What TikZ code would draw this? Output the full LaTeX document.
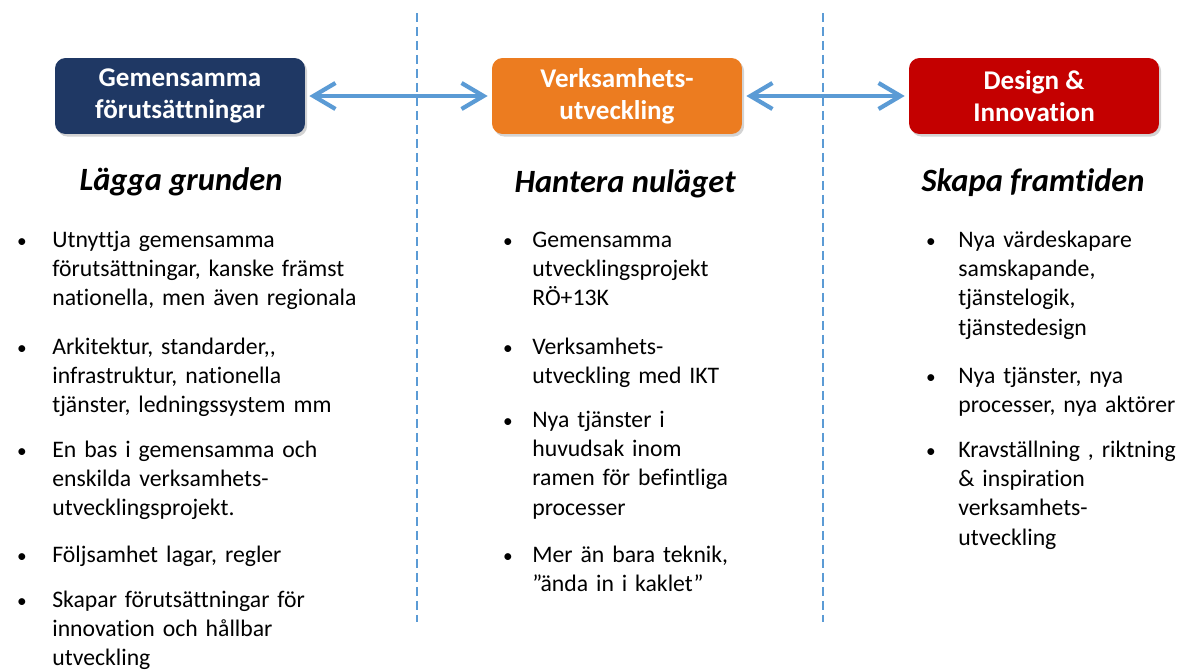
\documentclass[tikz,border=0pt]{standalone}
\usepackage{fontspec}
\setmainfont{Carlito}[Ligatures={NoCommon}]
\usepackage{tikz}
\usetikzlibrary{arrows.meta, positioning, shadows}
\definecolor{mynavy}{RGB}{31,56,100}
\definecolor{myorange}{RGB}{236,124,32}
\definecolor{myred}{RGB}{196,0,0}
\definecolor{myblue}{RGB}{91,155,213}
\tikzset{
  phase/.style={rectangle, rounded corners=6pt, minimum width=5cm,
    minimum height=1.52cm, text=white, align=center,
    font=\fontsize{15.4}{18}\selectfont\bfseries,
    drop shadow={shadow xshift=1.2pt, shadow yshift=-1.5pt, opacity=0.35}},
  heading/.style={anchor=base, inner sep=0pt,
    font=\fontsize{18.5}{21}\selectfont\bfseries\itshape},
  punkt/.style={anchor=base west, inner sep=0pt, text width=7cm,
    align=left, font=\fontsize{13.5}{16.7}\selectfont},
  bullet/.style={anchor=base, inner sep=0pt,
    font=\fontsize{11}{16.7}\selectfont},
  dubbelpil/.style={{Straight Barb[length=0.44cm,width=0.52cm]}-{Straight Barb[length=0.44cm,width=0.52cm]},
    line width=2.4pt, color=myblue, shorten <=0.08cm, shorten >=0.08cm},
  delning/.style={myblue, line width=1.1pt, dash pattern=on 0.18cm off 0.1cm}
}

\begin{document}
\begin{tikzpicture}[x=0.02cm, y=-0.02cm]
  \clip (0,0) rectangle (1182,670);
  % Column separators
  \draw[delning] (417,13) -- (417,622);
  \draw[delning] (823,13) -- (823,622);
  % Phase boxes
  \node[phase, fill=mynavy] (gem) at (180,96) {Gemensamma\\förutsättningar};
  \node[phase, fill=myorange] (verk) at (617,96) {Verksamhets-\\utveckling};
  \node[phase, fill=myred] (design) at (1034,96) {Design \&\\Innovation};
  \draw[dubbelpil] (gem) -- (verk);
  \draw[dubbelpil] (verk) -- (design);
  % Headings
  \node[heading] (grund) at (181,190) {Lägga grunden};
  \node[heading] (nu) at (625,192) {Hantera nuläget};
  \node[heading] (fram) at (1033,191) {Skapa framtiden};
  % Left column
  \node[bullet] (gb1) at (22,247) {•};
  \node[punkt] (g1) at (52,247) {Utnyttja gemensamma\\förutsättningar, kanske främst\\nationella, men även regionala};
  \node[bullet] (gb2) at (22,354) {•};
  \node[punkt] (g2) at (52,354) {Arkitektur, standarder,{},\\infrastruktur, nationella\\tjänster, ledningssystem mm};
  \node[bullet] (gb3) at (22,457) {•};
  \node[punkt] (g3) at (52,457) {En bas i gemensamma och\\enskilda verksamhets-\\utvecklingsprojekt.};
  \node[bullet] (gb4) at (22,562) {•};
  \node[punkt] (g4) at (52,562) {Följsamhet lagar, regler};
  \node[bullet] (gb5) at (22,607) {•};
  \node[punkt] (g5) at (52,607) {Skapar förutsättningar för\\innovation och hållbar\\utveckling};
  % Middle column
  \node[bullet] (vb1) at (508,247) {•};
  \node[punkt] (v1) at (532,247) {Gemensamma\\utvecklingsprojekt\\RÖ+13K};
  \node[bullet] (vb2) at (508,354) {•};
  \node[punkt] (v2) at (532,354) {Verksamhets-\\utveckling med IKT};
  \node[bullet] (vb3) at (508,427) {•};
  \node[punkt] (v3) at (532,427) {Nya tjänster i\\huvudsak inom\\ramen för befintliga\\processer};
  \node[bullet] (vb4) at (508,562) {•};
  \node[punkt] (v4) at (532,562) {Mer än bara teknik,\\”ända in i kaklet”};
  % Right column
  \node[bullet] (db1) at (931,247) {•};
  \node[punkt] (d1) at (958,247) {Nya värdeskapare\\samskapande,\\tjänstelogik,\\tjänstedesign};
  \node[bullet] (db2) at (931,383) {•};
  \node[punkt] (d2) at (958,383) {Nya tjänster, nya\\processer, nya aktörer};
  \node[bullet] (db3) at (931,457) {•};
  \node[punkt] (d3) at (958,457) {Kravställning , riktning\\\& inspiration\\verksamhets-\\utveckling};
\end{tikzpicture}
\end{document}
